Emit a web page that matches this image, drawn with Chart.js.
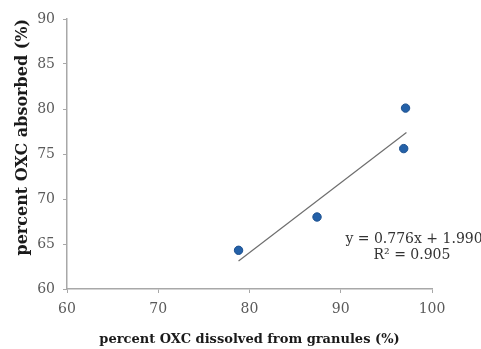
<!DOCTYPE html>
<html>
<head>
<meta charset="utf-8">
<script src="https://cdn.jsdelivr.net/npm/chart.js@4/dist/chart.umd.min.js"></script>
<style>
  html, body { margin: 0; padding: 0; background: #fff; }
  #wrap { width: 481px; height: 349px; }
</style>
</head>
<body>
<div id="wrap"><canvas id="chartOxc"></canvas></div>
<script>
// data
const dissolved = [78.8, 87.4, 96.9, 97.1];
const absorbed = [64.3, 68.0, 75.6, 80.1];
const trendX = [78.8, 97.2];
const trendY = [63.1, 77.4];
const xTicks = [60, 70, 80, 90, 100];
const yTicks = [60, 65, 70, 75, 80, 85, 90];
const eqLines = ["y = 0.776x + 1.990", "R\u00b2 = 0.905"];

const axisGray = "#a8a8a8";
const serif = "'DejaVu Serif', 'Liberation Serif', serif";

// teks persamaan garis
const eqLabel = {
    id: "eqLabel",
    afterDraw(chart) {
        const c = chart.ctx;
        c.save();
        c.fillStyle = "#333";
        c.font = "14px " + serif;
        c.textAlign = "center";
        c.textBaseline = "middle";
        c.fillText(eqLines[0], 414, 239);
        c.fillText(eqLines[1], 412, 255);
        c.restore();
    }
};

new Chart(document.getElementById("chartOxc"), {
    type: "scatter",
    data: {
        datasets: [
            {
                label: "OXC",
                data: dissolved.map((x, i) => ({ x: x, y: absorbed[i] })),
                backgroundColor: "#2461a8",
                borderColor: "#1b4f8e",
                borderWidth: 1,
                pointRadius: 4.2
            },
            {
                label: "Linear",
                type: "line",
                data: trendX.map((x, i) => ({ x: x, y: trendY[i] })),
                borderColor: "#6e6e6e",
                borderWidth: 1.2,
                pointRadius: 0,
                fill: false
            }
        ]
    },
    options: {
        responsive: true,
        maintainAspectRatio: false,
        animation: false,
        layout: { padding: { left: 9, top: 19, right: 49, bottom: 0 } },
        plugins: {
            legend: { display: false },
            tooltip: { enabled: false }
        },
        scales: {
            x: {
                type: "linear",
                min: 60,
                max: 100,
                afterBuildTicks: (s) => { s.ticks = xTicks.map(v => ({ value: v })); },
                afterFit: (s) => { s.height = 60; },
                border: { color: axisGray, width: 1.5 },
                grid: { drawOnChartArea: false, tickLength: 4, color: axisGray },
                ticks: { color: "#5a5a5a", padding: 8, font: { family: serif, size: 14 } },
                title: {
                    display: true,
                    text: "percent OXC dissolved from granules (%)",
                    color: "#1a1a1a",
                    padding: { top: 2, bottom: 2 },
                    font: { family: serif, size: 13, weight: "bold" }
                }
            },
            y: {
                type: "linear",
                min: 60,
                max: 90,
                afterBuildTicks: (s) => { s.ticks = yTicks.map(v => ({ value: v })); },
                afterFit: (s) => { s.width = 58; },
                border: { color: axisGray, width: 1.5 },
                grid: { drawOnChartArea: false, tickLength: 4, color: axisGray },
                ticks: { color: "#5a5a5a", padding: 8, font: { family: serif, size: 14 } },
                title: {
                    display: true,
                    text: "percent OXC absorbed (%)",
                    align: "end",
                    color: "#1a1a1a",
                    padding: { top: 4, bottom: 4 },
                    font: { family: serif, size: 16, weight: "bold" }
                }
            }
        }
    },
    plugins: [eqLabel]
});
</script>
</body>
</html>
